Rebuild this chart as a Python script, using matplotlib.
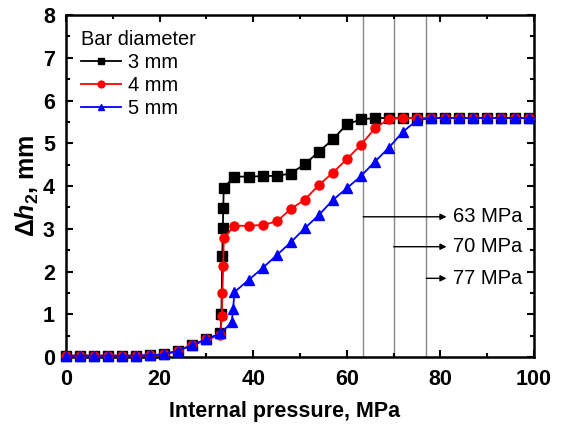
import matplotlib
matplotlib.use("Agg")
import matplotlib.pyplot as plt
from matplotlib.ticker import MultipleLocator

plt.rcParams["font.family"] = ["Liberation Sans", "DejaVu Sans"]
plt.rcParams["mathtext.fontset"] = "custom"
plt.rcParams["mathtext.rm"] = "Liberation Sans:bold"
plt.rcParams["mathtext.it"] = "Liberation Sans:italic:bold"
plt.rcParams["mathtext.bf"] = "Liberation Sans:bold"

# Internal pressure (MPa) and displacement Δh2 (mm) for each bar diameter
base_p = [0, 3, 6, 9, 12, 15, 18, 21, 24, 27, 30]
base_h = [0.03, 0.03, 0.03, 0.03, 0.03, 0.03, 0.04, 0.06, 0.15, 0.28, 0.41]
tail_p = [69, 72, 75, 78, 81, 84, 87, 90, 93, 96, 99, 100]

p_3mm = base_p + [33, 33.2, 33.4, 33.5, 33.6, 33.7, 36, 39, 42, 45, 48, 51, 54, 57, 60,
                  63, 66] + tail_p
h_3mm = base_h + [0.55, 1.0, 2.37, 3.02, 3.48, 3.96, 4.22, 4.22, 4.23, 4.24, 4.29, 4.51,
                  4.80, 5.09, 5.44, 5.56, 5.59] + [5.59] * len(tail_p)

p_4mm = base_p + [33, 33.3, 33.4, 33.6, 33.7, 36, 39, 42, 45, 48, 51, 54, 57, 60,
                  63, 66] + tail_p
h_4mm = base_h + [0.51, 0.97, 1.50, 2.14, 2.78, 3.07, 3.07, 3.09, 3.17, 3.46, 3.68,
                  4.02, 4.31, 4.63, 4.96, 5.35] + [5.57] + [5.59] * (len(tail_p) - 1)

p_5mm = base_p + [33, 35.4, 35.7, 36, 39, 42, 45, 48, 51, 54, 57, 60,
                  63, 66] + tail_p
h_5mm = base_h + [0.55, 0.81, 1.12, 1.52, 1.80, 2.08, 2.38, 2.68, 3.01, 3.32, 3.67,
                  3.95, 4.23, 4.57] + [4.90, 5.27, 5.54] + [5.59] * (len(tail_p) - 3)

labels = ["3 mm", "4 mm", "5 mm"]
colors = ["black", "red", "blue"]
markers = ["s", "o", "^"]

# Critical pressures marked by vertical guide lines
crit_p = [63.5, 70, 77]
crit_text = ["63 MPa", "70 MPa", "77 MPa"]
crit_y = [3.28, 2.58, 1.84]

fig = plt.figure(figsize=(5.61, 4.30), dpi=100)
ax = fig.add_axes([0.1176, 0.1698, 0.952 - 0.1176, 0.965 - 0.1698])

for p, h, lab, c, m in zip([p_3mm, p_4mm, p_5mm], [h_3mm, h_4mm, h_5mm], labels, colors, markers):
    ax.plot(p, h, color=c, marker=m, markersize=6.5, linewidth=1.3, label=lab,
            markevery=list(range(len(p) - 1)), clip_on=False, zorder=3)

for xc, txt, yc in zip(crit_p, crit_text, crit_y):
    ax.axvline(xc, color="#888888", linewidth=1.0, zorder=1)
    ax.annotate("", xy=(81.3, yc), xytext=(xc, yc),
                arrowprops=dict(arrowstyle="-|>", color="black", lw=1.0,
                                mutation_scale=9, shrinkA=0, shrinkB=0))
    ax.text(82.6, yc, txt, fontsize=14.5, va="center", ha="left")

ax.set_xlim(0, 100)
ax.set_ylim(0, 8)
ax.xaxis.set_major_locator(MultipleLocator(20))
ax.xaxis.set_minor_locator(MultipleLocator(10))
ax.yaxis.set_major_locator(MultipleLocator(1))
ax.yaxis.set_minor_locator(MultipleLocator(0.5))
ax.tick_params(which="both", direction="in", top=True, right=True, width=1.5)
ax.tick_params(which="major", length=5, labelsize=15.5)
ax.tick_params(axis="x", which="major", pad=9)
ax.tick_params(axis="y", which="major", pad=8)
ax.tick_params(which="minor", length=3)
for lbl in ax.get_xticklabels() + ax.get_yticklabels():
    lbl.set_fontweight("bold")
for s in ax.spines.values():
    s.set_linewidth(1.8)

ax.set_xlabel("Internal pressure, MPa", fontsize=15.5, fontweight="bold")
ax.xaxis.set_label_coords(0.468, -0.13)
ax.set_ylabel(r"$\mathit{\Delta h}_{\mathrm{2}}$, mm", fontsize=18, fontweight="bold", labelpad=1)

leg = ax.legend(title="Bar diameter", loc="upper left", frameon=False, fontsize=14.4,
                title_fontsize=14.4, handlelength=2.0, handletextpad=0.35,
                labelspacing=0.2, borderaxespad=0.35, borderpad=0.4, markerscale=0.75)
leg._legend_box.align = "left"

fig.savefig("out.png", dpi=100)
